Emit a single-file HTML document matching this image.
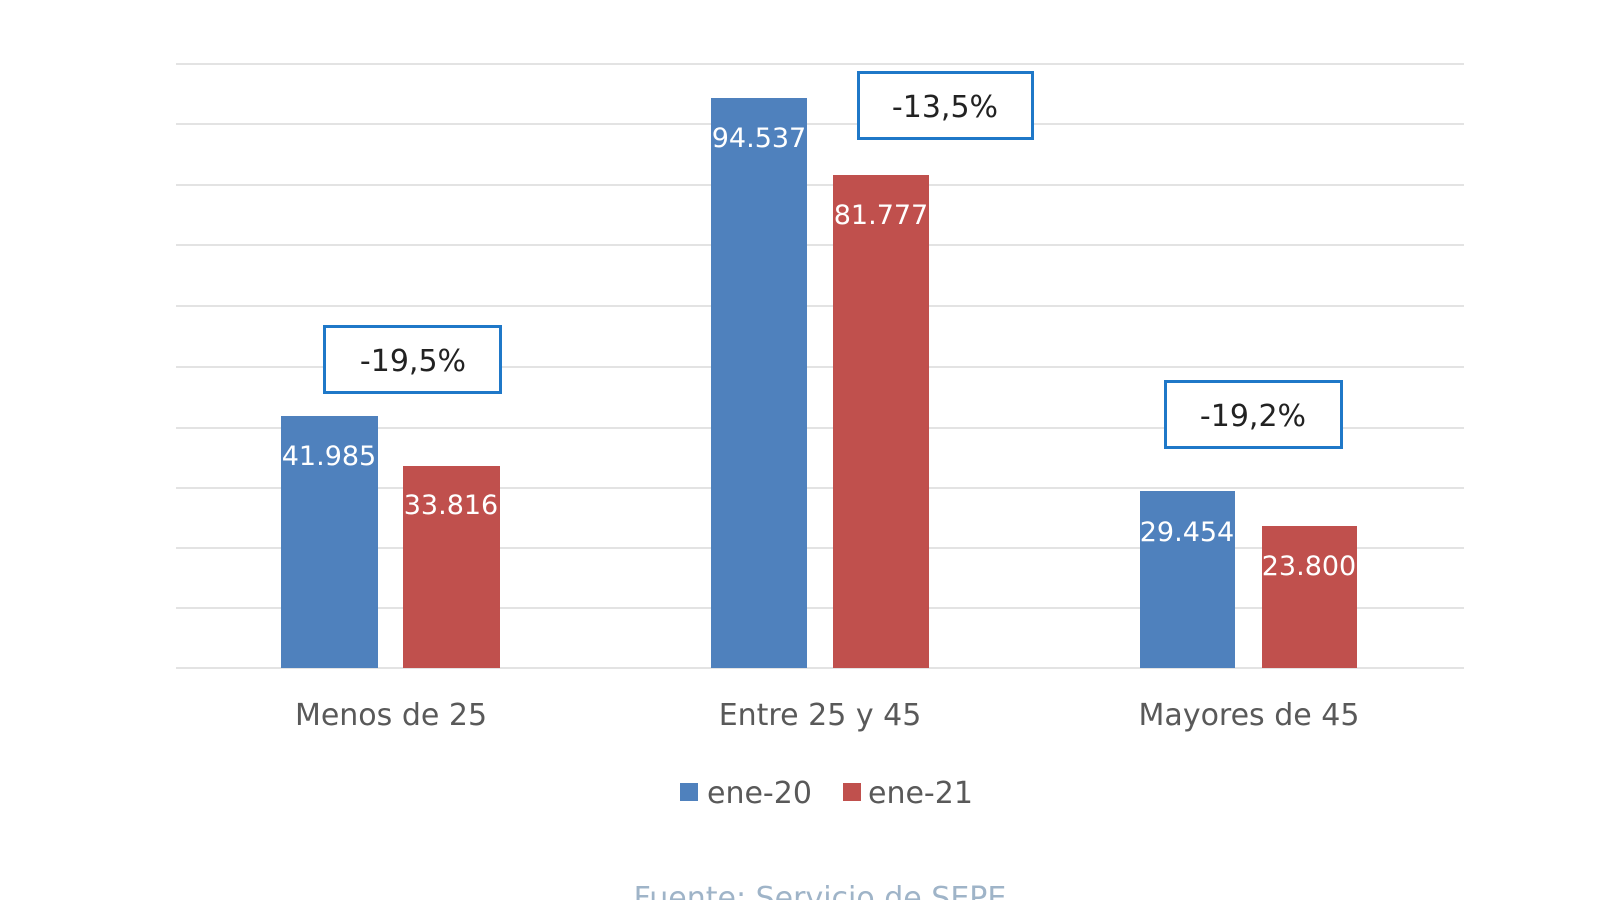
<!DOCTYPE html>
<html><head><meta charset="utf-8"><style>
html,body{margin:0;padding:0;background:#fff;}
svg{display:block;}
text{font-family:"DejaVu Sans","Liberation Sans",sans-serif;}
</style></head><body>
<svg width="1600" height="900" viewBox="0 0 1600 900" xmlns="http://www.w3.org/2000/svg">
<g stroke="#e3e3e3" stroke-width="2">
<line x1="176" y1="64" x2="1464" y2="64"/>
<line x1="176" y1="124" x2="1464" y2="124"/>
<line x1="176" y1="185" x2="1464" y2="185"/>
<line x1="176" y1="245" x2="1464" y2="245"/>
<line x1="176" y1="306" x2="1464" y2="306"/>
<line x1="176" y1="367" x2="1464" y2="367"/>
<line x1="176" y1="428" x2="1464" y2="428"/>
<line x1="176" y1="488" x2="1464" y2="488"/>
<line x1="176" y1="548" x2="1464" y2="548"/>
<line x1="176" y1="608" x2="1464" y2="608"/>
<line x1="176" y1="668" x2="1464" y2="668"/>
</g>
<g fill="#4f81bd">
<rect x="281" y="416" width="97" height="252"/>
<rect x="711" y="98" width="96" height="570"/>
<rect x="1140" y="491" width="95" height="177"/>
</g>
<g fill="#c0504d">
<rect x="403" y="466" width="97" height="202"/>
<rect x="833" y="175" width="96" height="493"/>
<rect x="1262" y="526" width="95" height="142"/>
</g>
<g fill="#fff" font-size="27" text-anchor="middle">
<text x="329" y="465">41.985</text>
<text x="451" y="514">33.816</text>
<text x="759" y="147">94.537</text>
<text x="881" y="224">81.777</text>
<text x="1187" y="541">29.454</text>
<text x="1309" y="575">23.800</text>
</g>
<g fill="#fff" stroke="#1f78c8" stroke-width="3">
<rect x="324.5" y="326.5" width="176" height="66"/>
<rect x="858.5" y="72.5" width="174" height="66"/>
<rect x="1165.5" y="381.5" width="176" height="66"/>
</g>
<g fill="#222" font-size="30" text-anchor="middle">
<text x="413" y="371">-19,5%</text>
<text x="945" y="117">-13,5%</text>
<text x="1253" y="426">-19,2%</text>
</g>
<g fill="#595959" font-size="30" text-anchor="middle">
<text x="391" y="725">Menos de 25</text>
<text x="820" y="725">Entre 25 y 45</text>
<text x="1249" y="725">Mayores de 45</text>
</g>
<rect x="680" y="783" width="18" height="18" fill="#4f81bd"/>
<text x="707" y="803" font-size="30" fill="#595959">ene-20</text>
<rect x="843" y="783" width="18" height="18" fill="#c0504d"/>
<text x="868" y="803" font-size="30" fill="#595959">ene-21</text>
<text x="820" y="908" font-size="30" fill="#9fb4c8" text-anchor="middle">Fuente: Servicio de SEPE</text>
</svg>
</body></html>
